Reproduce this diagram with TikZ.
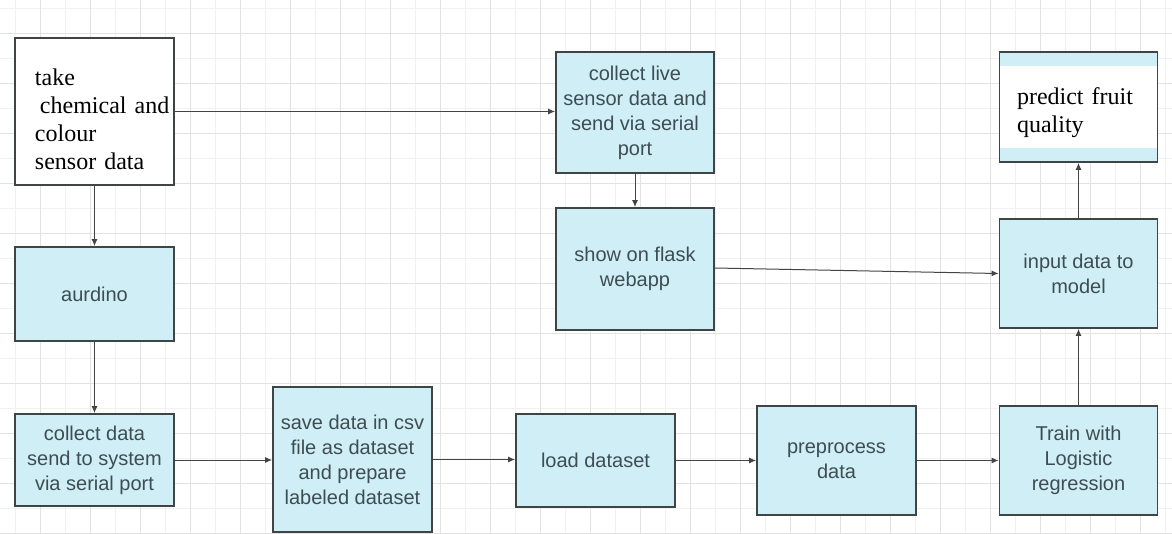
\documentclass[tikz,border=0pt]{standalone}
\usepackage{fontspec}
\setmainfont{Liberation Serif}
\setsansfont{Liberation Sans}
\usetikzlibrary{arrows.meta}
\definecolor{boxfill}{HTML}{D0EEF6}
\definecolor{boxline}{HTML}{3F4444}
\definecolor{txt}{HTML}{3E4D52}
\definecolor{gridmin}{HTML}{F1F1F1}
\definecolor{gridmaj}{HTML}{E2E2E2}
\definecolor{arr}{HTML}{444444}
\begin{document}
\begin{tikzpicture}[x=1pt,y=-1pt,
  sz/.style 2 args={minimum width=#1pt, minimum height=#2pt},
  procbox/.style={draw=boxline, line width=1.8pt, fill=boxfill, inner sep=0pt,
    align=center, text=txt, font=\sffamily\fontsize{20}{25}\selectfont},
  serifbox/.style={draw=boxline, line width=1.8pt, fill=white, inner sep=0pt,
    align=left, text=black, font=\rmfamily\fontsize{24}{28}\selectfont},
  conn/.style={draw=arr, line width=1pt, -{Latex[length=7pt,width=6pt]}}
]
\fill[white] (0,0) rectangle (1172,533);
\useasboundingbox (0,0) rectangle (1172,533);
% grid
\foreach \x in {15,65,...,1165} \draw[gridmin, line width=1pt] (\x,0) -- (\x,533);
\foreach \y in {8,58,...,508} \draw[gridmin, line width=1pt] (0,\y) -- (1172,\y);
\foreach \x in {40,90,...,1140} \draw[gridmaj, line width=1pt] (\x,0) -- (\x,533);
\foreach \y in {33,83,...,533} \draw[gridmaj, line width=1pt] (0,\y) -- (1172,\y);

% nodes
\node[serifbox, sz={159}{147}, text width=150pt] (take) at (94.5,111.5)
  {\hspace*{15.5pt}\rule{0pt}{32pt}take\\
   \hspace*{20.5pt}chemical and\\
   \hspace*{15.5pt}colour\\
   \hspace*{15.5pt}sensor data};
\node[procbox, sz={159}{94}] (aurdino) at (94.5,294) {aurdino};
\node[procbox, sz={159}{92}] (collect) at (94.5,460) {collect data\\send to system\\via serial port};
\node[procbox, sz={159}{145}] (save) at (352.5,459.5) {save data in csv\\file as dataset\\and prepare\\labeled dataset};
\node[procbox, sz={159}{93}] (load) at (595.5,460.5) {load dataset};
\node[procbox, sz={159}{109}] (prep) at (836.5,460.5) {preprocess\\data};
\node[procbox, sz={158}{109}] (train) at (1078.5,460.5) {Train with\\Logistic\\regression};
\node[procbox, sz={158}{109}] (input) at (1078.5,273.5) {input data to\\model};
\node[procbox, sz={158}{121}] (live) at (635,112.5) {collect live\\sensor data and\\send via serial\\port};
\node[procbox, sz={158}{122}] (show) at (635,269) {show on flask\\webapp};
\node[serifbox, fill=boxfill, sz={158}{110}, text width=150pt,
  path picture={\fill[white] ([yshift=-14pt]path picture bounding box.north west)
    rectangle ([yshift=14pt]path picture bounding box.south east);}]
  (predict) at (1078.5,107)
  {\hspace*{13.5pt}\rule{0pt}{28pt}predict fruit\\\hspace*{13.5pt}quality};

% connectors
\draw[conn] (take.east) -- (take.east -| live.west);
\draw[conn] (take.south) -- (aurdino.north);
\draw[conn] (aurdino.south) -- (collect.north);
\draw[conn] (collect.east) -- (collect.east -| save.west);
\draw[conn] (save.east) -- (save.east -| load.west);
\draw[conn] (load.east) -- (load.east -| prep.west);
\draw[conn] (prep.east) -- (prep.east -| train.west);
\draw[conn] (train.north) -- (input.south);
\draw[conn] (input.north) -- (predict.south);
\draw[conn] (live.south) -- (show.north);
\draw[conn] ([yshift=1pt]show.east) -- (input.west);
\end{tikzpicture}
\end{document}
